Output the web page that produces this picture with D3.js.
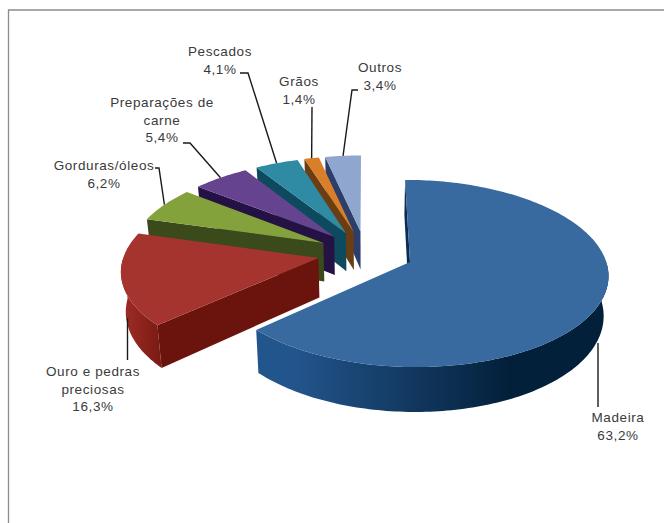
<!DOCTYPE html>
<html>
<head>
<meta charset="utf-8">
<script src="https://cdn.jsdelivr.net/npm/d3@7"></script>
<style>
html, body { margin: 0; padding: 0; background: #fff; }
text { font-family: "Liberation Sans", Arial, sans-serif; font-size: 13.5px; fill: #3a3a3a; letter-spacing: 0.6px; }
</style>
</head>
<body>
<svg id="chart" width="664" height="523"></svg>
<script>
var categories = ["Madeira", "Ouro e pedras preciosas", "Gorduras/óleos", "Preparações de carne", "Pescados", "Grãos", "Outros"];
var shares = [63.2, 16.3, 6.2, 5.4, 4.1, 1.4, 3.4];
var shareLabels = ["63,2%", "16,3%", "6,2%", "5,4%", "4,1%", "1,4%", "3,4%"];

var topColors = ["#38699f", "#a5342f", "#84a23c", "#66438f", "#2f8aa3", "#d97f2a", "#8fa6cf"];
var faceColors = ["#0a2c52", "#6b130d", "#3b4a1a", "#251245", "#0d4a5e", "#6a3d12", "#2c3f6a"];
var rimLight = ["#23558d", "#a02e27", "#55702a", "#3c2560", "#1a6478", "#a05c1c", "#5a7099"];
var rimDark = ["#03203a", "#7d1c15", "#3b4a1a", "#251245", "#0d4a5e", "#6a3d12", "#2c3f6a"];

// label text lines, anchor and leader points, in page pixels.
// leaders with no "to" run on to the rim at the middle of the slice
var labelLayout = [
  { lines: ["Madeira", "63,2%"], x: 618, y: 422, via: [[598, 407]], to: [598, 343] },
  { lines: ["Ouro e pedras", "preciosas", "16,3%"], x: 93, y: 376, via: [[127.5, 360]], to: [127.5, 318] },
  { lines: ["Gorduras/óleos", "6,2%"], x: 104, y: 170, via: [[155, 168], [159, 168]] },
  { lines: ["Preparações de", "carne", "5,4%"], x: 162, y: 107, via: [[183, 143], [190, 143]] },
  { lines: ["Pescados", "4,1%"], x: 220, y: 56, via: [[240, 73], [248, 73]] },
  { lines: ["Grãos", "1,4%"], x: 299, y: 86, via: [[312, 107]] },
  { lines: ["Outros", "3,4%"], x: 380, y: 72, via: [[358, 90], [352, 90]] }
];

var width = 664, height = 523;
var cx = 365.5, cy = 253;    // pie centre before the slices are pulled out
var R = 194, Ry = 90;        // radii of the tilted disc
var persp = 0.12;            // how much the near side grows
var depth = 39;              // thickness of the pie
var explode = 48 / 194;      // pull out distance, in radius units
var shrink = 0.02;           // base of the pie is a bit narrower

var svg = d3.select("#chart");
var defs = svg.append("defs");

//frame only shows on top and left
svg.append("path").attr("d", d3.line()([[8.5, height], [8.5, 10], [width, 10]]))
   .attr("fill", "none").attr("stroke", "#8c8c8c").attr("stroke-width", 1.3);

var pie = d3.pie().sort(null).value(function(d){ return d; });
var arcs = pie(shares);

//project a point on the pie plane to the page
function project(X, Y, down){
  var s = 1 / (1 - persp * Y);
  var xs = R * X * s;
  if (down) xs = xs * (1 - shrink);
  return [cx + xs, cy + Ry * Y * s + (down ? depth * s : 0)];
}

function pathOf(pts){
  return "M" + pts.map(function(p){ return p[0].toFixed(1) + "," + p[1].toFixed(1); }).join("L") + "Z";
}

function midOf(a){ return (a.startAngle + a.endAngle) / 2; }

//back slices first, so the front ones cover them
var order = d3.range(arcs.length).sort(function(p, q){
  return Math.cos(midOf(arcs[q])) - Math.cos(midOf(arcs[p]));
});

order.forEach(function(i){
  var a = arcs[i];
  var mid = midOf(a);
  var ox = Math.sin(mid) * explode, oy = -Math.cos(mid) * explode;
  var n = Math.max(4, Math.ceil((a.endAngle - a.startAngle) / 0.02));
  var angles = d3.range(n + 1).map(function(k){ return a.startAngle + (a.endAngle - a.startAngle) * k / n; });
  var onRim = function(t, down){ return project(ox + Math.sin(t), oy - Math.cos(t), down); };

  var g = svg.append("g");
  var apexTop = project(ox, oy, false), apexLow = project(ox, oy, true);

  //curved rim, only the part that faces us
  var front = angles.filter(function(t){ return Math.cos(t) < 0; });
  if (front.length > 1){
    var upper = front.map(function(t){ return onRim(t, false); });
    var lower = front.map(function(t){ return onRim(t, true); }).reverse();
    var grad = defs.append("linearGradient").attr("id", "rim" + i)
        .attr("gradientUnits", "userSpaceOnUse")
        .attr("x1", d3.min(upper, function(p){ return p[0]; })).attr("y1", 0)
        .attr("x2", d3.max(upper, function(p){ return p[0]; })).attr("y2", 0);
    grad.append("stop").attr("offset", i == 0 ? 0.1 : 0).attr("stop-color", rimLight[i]);
    grad.append("stop").attr("offset", i == 0 ? 0.72 : 1).attr("stop-color", rimDark[i]);
    g.append("path").attr("d", pathOf(upper.concat(lower))).attr("fill", "url(#rim" + i + ")");
  }

  //flat cut faces, start edge and end edge
  if (-Math.sin(a.startAngle) > -0.001){
    g.append("path")
     .attr("d", pathOf([apexTop, onRim(a.startAngle, false), onRim(a.startAngle, true), apexLow]))
     .attr("fill", faceColors[i]);
  }
  if (Math.sin(a.endAngle) > 0.001){
    g.append("path")
     .attr("d", pathOf([apexTop, onRim(a.endAngle, false), onRim(a.endAngle, true), apexLow]))
     .attr("fill", faceColors[i]);
  }

  var topPts = [apexTop].concat(angles.map(function(t){ return onRim(t, false); }));
  g.append("path").attr("d", pathOf(topPts)).attr("fill", topColors[i]);
});

var leaderGen = d3.line();
labelLayout.forEach(function(lab, i){
  var mid = midOf(arcs[i]);
  var end = lab.to || project(Math.sin(mid) * (1 + explode), -Math.cos(mid) * (1 + explode), false);
  svg.append("path")
     .attr("d", leaderGen(lab.via.concat([end])))
     .attr("fill", "none").attr("stroke", "#1a1a1a").attr("stroke-width", 1.4);
  var t = svg.append("text").attr("text-anchor", "middle");
  lab.lines.forEach(function(line, j){
    t.append("tspan").attr("x", lab.x).attr("y", lab.y + j * 17.5).text(line);
  });
});
</script>
</body>
</html>
